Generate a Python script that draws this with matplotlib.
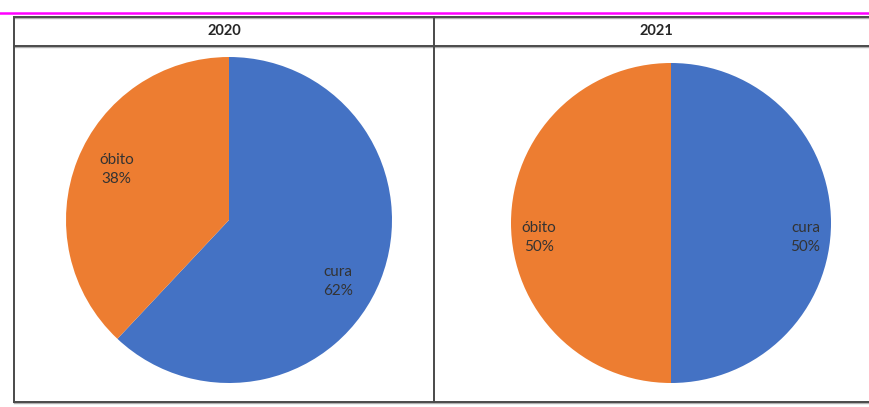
import matplotlib
matplotlib.use("Agg")
import matplotlib.pyplot as plt
from matplotlib.lines import Line2D

# dados
anos = ["2020", "2021"]
categorias = ["cura", "óbito"]
valores_2020 = [62, 38]
valores_2021 = [50, 50]
cores = ["#4472C4", "#ED7D31"]

# posicao dos rotulos (fracao do raio), como no grafico original
pos_rotulos = [
    [(0.67, -0.38), (-0.69, 0.31)],
    [(0.84, -0.09), (-0.825, -0.09)],
]

W, H = 870, 407
fig = plt.figure(figsize=(W / 100, H / 100), dpi=100)
fig.patch.set_facecolor("white")

def fx(x):
    return x / W

def fy(y):
    return 1 - y / H

# linha magenta no topo
fig.add_artist(Line2D([0, 1], [fy(12.5), fy(12.5)], color="#FF00FF", lw=1.8))

# moldura da tabela (com leve sombra)
borda = "#4a4a4a"
for y in (17, 46, 402):
    fig.add_artist(Line2D([fx(14), 1], [fy(y + 1.2), fy(y + 1.2)], color="#b0b0b0", lw=1.0))
    fig.add_artist(Line2D([fx(14), 1], [fy(y), fy(y)], color=borda, lw=1.4))
for x in (14, 434):
    fig.add_artist(Line2D([fx(x), fx(x)], [fy(17), fy(402)], color=borda, lw=1.4))

# cabecalhos
for ano, xc in zip(anos, (224, 656)):
    fig.text(fx(xc), fy(31), ano, ha="center", va="center", fontsize=10.5,
             family="Lato", fontweight="bold", color="#262626")

centros = [(229, 220), (671, 223)]
raios = [163, 160]
for i, vals in enumerate([valores_2020, valores_2021]):
    cx, cy = centros[i]
    r = raios[i]
    ax = fig.add_axes([fx(cx - r), fy(cy + r), 2 * r / W, 2 * r / H])
    ax.pie(vals, colors=cores, startangle=90, counterclock=False,
           wedgeprops=dict(linewidth=0))
    ax.set_xlim(-1, 1)
    ax.set_ylim(-1, 1)
    ax.set_aspect("equal")
    ax.axis("off")
    for cat, v, (tx, ty) in zip(categorias, vals, pos_rotulos[i]):
        ax.text(tx, ty, "%s\n%d%%" % (cat, v), ha="center", va="center",
                fontsize=11, family="Lato", color="#333333", linespacing=1.45)

fig.savefig("out.png", dpi=100)
